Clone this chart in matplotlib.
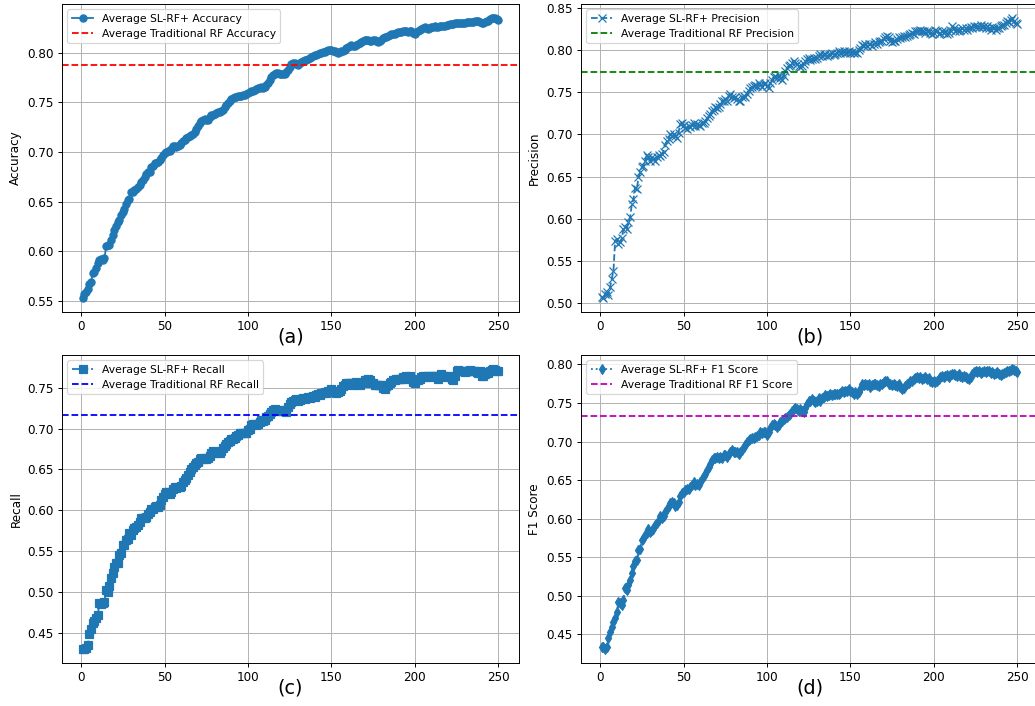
import numpy as np
import matplotlib.pyplot as plt


# ============================================================
# Data (one value per iteration)
# ============================================================

iterations = np.arange(1, 251)

acc_sl_rf = [
    0.553, 0.557, 0.559, 0.562, 0.567, 0.569, 0.578, 0.579, 0.583, 0.588,
    0.591, 0.592, 0.591, 0.593, 0.605, 0.606, 0.606, 0.611, 0.616, 0.621,
    0.626, 0.630, 0.632, 0.637, 0.640, 0.643, 0.648, 0.652, 0.653, 0.660,
    0.660, 0.662, 0.663, 0.665, 0.667, 0.670, 0.672, 0.675, 0.678, 0.680,
    0.680, 0.685, 0.686, 0.689, 0.689, 0.690, 0.692, 0.694, 0.697, 0.699,
    0.700, 0.701, 0.701, 0.703, 0.706, 0.706, 0.705, 0.706, 0.707, 0.709,
    0.711, 0.712, 0.714, 0.715, 0.716, 0.717, 0.718, 0.720, 0.723, 0.726,
    0.729, 0.731, 0.732, 0.733, 0.732, 0.732, 0.735, 0.737, 0.737, 0.738,
    0.739, 0.740, 0.740, 0.741, 0.742, 0.745, 0.747, 0.749, 0.751, 0.753,
    0.754, 0.755, 0.755, 0.756, 0.756, 0.756, 0.757, 0.757, 0.758, 0.759,
    0.760, 0.761, 0.761, 0.762, 0.763, 0.764, 0.765, 0.766, 0.764, 0.766,
    0.768, 0.770, 0.773, 0.776, 0.778, 0.779, 0.780, 0.780, 0.779, 0.779,
    0.779, 0.779, 0.781, 0.783, 0.786, 0.789, 0.790, 0.790, 0.789, 0.788,
    0.790, 0.791, 0.792, 0.793, 0.793, 0.794, 0.795, 0.796, 0.797, 0.798,
    0.798, 0.799, 0.800, 0.800, 0.801, 0.801, 0.802, 0.803, 0.803, 0.803,
    0.802, 0.802, 0.801, 0.800, 0.801, 0.802, 0.802, 0.803, 0.805, 0.806,
    0.807, 0.808, 0.807, 0.807, 0.808, 0.809, 0.810, 0.811, 0.812, 0.813,
    0.813, 0.813, 0.812, 0.812, 0.813, 0.813, 0.812, 0.811, 0.812, 0.813,
    0.815, 0.816, 0.816, 0.817, 0.818, 0.819, 0.819, 0.819, 0.820, 0.821,
    0.821, 0.821, 0.822, 0.822, 0.822, 0.821, 0.822, 0.822, 0.820, 0.819,
    0.821, 0.822, 0.823, 0.824, 0.825, 0.826, 0.825, 0.824, 0.825, 0.826,
    0.826, 0.827, 0.826, 0.826, 0.827, 0.827, 0.827, 0.827, 0.828, 0.828,
    0.829, 0.829, 0.829, 0.830, 0.830, 0.830, 0.830, 0.830, 0.830, 0.830,
    0.831, 0.831, 0.831, 0.831, 0.831, 0.832, 0.832, 0.832, 0.831, 0.830,
    0.830, 0.831, 0.832, 0.832, 0.834, 0.835, 0.835, 0.835, 0.834, 0.833,
]

prec_sl_rf = [
    0.507, 0.506, 0.511, 0.513, 0.509, 0.519, 0.529, 0.538, 0.574, 0.576,
    0.570, 0.572, 0.577, 0.588, 0.590, 0.588, 0.596, 0.602, 0.617, 0.623,
    0.637, 0.635, 0.649, 0.655, 0.661, 0.663, 0.669, 0.675, 0.673, 0.669,
    0.673, 0.671, 0.669, 0.673, 0.675, 0.674, 0.677, 0.679, 0.688, 0.692,
    0.694, 0.700, 0.698, 0.701, 0.698, 0.696, 0.702, 0.712, 0.714, 0.711,
    0.708, 0.706, 0.710, 0.709, 0.711, 0.713, 0.710, 0.712, 0.711, 0.710,
    0.714, 0.713, 0.716, 0.719, 0.722, 0.724, 0.728, 0.729, 0.732, 0.731,
    0.733, 0.736, 0.740, 0.739, 0.742, 0.740, 0.746, 0.748, 0.744, 0.743,
    0.744, 0.742, 0.740, 0.740, 0.744, 0.746, 0.744, 0.748, 0.751, 0.755,
    0.756, 0.757, 0.759, 0.757, 0.761, 0.759, 0.756, 0.760, 0.761, 0.757,
    0.755, 0.761, 0.765, 0.768, 0.769, 0.767, 0.770, 0.767, 0.765, 0.769,
    0.775, 0.779, 0.781, 0.782, 0.785, 0.787, 0.785, 0.783, 0.781, 0.780,
    0.781, 0.783, 0.787, 0.789, 0.790, 0.788, 0.789, 0.791, 0.789, 0.791,
    0.793, 0.795, 0.793, 0.794, 0.795, 0.793, 0.794, 0.795, 0.796, 0.794,
    0.795, 0.797, 0.799, 0.797, 0.798, 0.799, 0.797, 0.798, 0.799, 0.797,
    0.798, 0.796, 0.798, 0.797, 0.800, 0.803, 0.806, 0.805, 0.807, 0.805,
    0.807, 0.807, 0.805, 0.807, 0.809, 0.807, 0.809, 0.811, 0.811, 0.813,
    0.815, 0.817, 0.815, 0.811, 0.810, 0.811, 0.811, 0.813, 0.815, 0.814,
    0.815, 0.817, 0.815, 0.817, 0.818, 0.819, 0.820, 0.819, 0.822, 0.822,
    0.823, 0.824, 0.823, 0.822, 0.820, 0.822, 0.823, 0.820, 0.819, 0.820,
    0.824, 0.822, 0.819, 0.820, 0.822, 0.820, 0.822, 0.819, 0.820, 0.824,
    0.828, 0.826, 0.823, 0.824, 0.823, 0.824, 0.826, 0.824, 0.826, 0.824,
    0.826, 0.827, 0.826, 0.828, 0.827, 0.828, 0.827, 0.830, 0.827, 0.828,
    0.826, 0.828, 0.826, 0.824, 0.827, 0.826, 0.824, 0.826, 0.826, 0.828,
    0.830, 0.830, 0.832, 0.834, 0.833, 0.836, 0.838, 0.835, 0.832, 0.831,
]

rec_sl_rf = [
    0.430, 0.430, 0.431, 0.435, 0.448, 0.454, 0.462, 0.464, 0.468, 0.472,
    0.486, 0.485, 0.486, 0.488, 0.502, 0.500, 0.507, 0.517, 0.523, 0.531,
    0.535, 0.535, 0.545, 0.547, 0.557, 0.558, 0.563, 0.565, 0.572, 0.570,
    0.576, 0.578, 0.580, 0.582, 0.586, 0.590, 0.591, 0.590, 0.592, 0.595,
    0.598, 0.601, 0.602, 0.604, 0.605, 0.604, 0.607, 0.612, 0.616, 0.620,
    0.622, 0.622, 0.620, 0.622, 0.626, 0.628, 0.627, 0.628, 0.628, 0.630,
    0.634, 0.637, 0.639, 0.643, 0.647, 0.650, 0.653, 0.656, 0.658, 0.659,
    0.663, 0.664, 0.663, 0.664, 0.663, 0.664, 0.667, 0.670, 0.672, 0.671,
    0.670, 0.671, 0.670, 0.673, 0.676, 0.679, 0.681, 0.683, 0.685, 0.687,
    0.687, 0.689, 0.691, 0.692, 0.694, 0.695, 0.694, 0.694, 0.695, 0.698,
    0.700, 0.704, 0.706, 0.706, 0.704, 0.706, 0.708, 0.710, 0.709, 0.711,
    0.714, 0.716, 0.718, 0.720, 0.723, 0.724, 0.723, 0.722, 0.723, 0.722,
    0.722, 0.723, 0.720, 0.726, 0.730, 0.732, 0.734, 0.735, 0.736, 0.734,
    0.735, 0.736, 0.737, 0.736, 0.738, 0.739, 0.738, 0.739, 0.740, 0.739,
    0.741, 0.742, 0.741, 0.743, 0.744, 0.745, 0.744, 0.746, 0.746, 0.748,
    0.745, 0.746, 0.744, 0.745, 0.746, 0.748, 0.752, 0.754, 0.756, 0.756,
    0.756, 0.756, 0.754, 0.756, 0.757, 0.756, 0.754, 0.756, 0.756, 0.759,
    0.760, 0.761, 0.759, 0.756, 0.756, 0.754, 0.754, 0.753, 0.754, 0.753,
    0.750, 0.748, 0.752, 0.753, 0.756, 0.757, 0.759, 0.760, 0.761, 0.761,
    0.761, 0.761, 0.763, 0.761, 0.764, 0.763, 0.765, 0.761, 0.757, 0.756,
    0.759, 0.759, 0.761, 0.763, 0.764, 0.763, 0.764, 0.765, 0.763, 0.764,
    0.765, 0.765, 0.764, 0.761, 0.765, 0.767, 0.765, 0.765, 0.763, 0.764,
    0.763, 0.761, 0.760, 0.765, 0.771, 0.772, 0.771, 0.770, 0.770, 0.769,
    0.770, 0.771, 0.772, 0.771, 0.770, 0.771, 0.769, 0.768, 0.770, 0.765,
    0.765, 0.767, 0.769, 0.768, 0.770, 0.772, 0.773, 0.772, 0.771, 0.770,
]

f1_sl_rf = [
    0.433, 0.434, 0.431, 0.434, 0.445, 0.453, 0.460, 0.466, 0.471, 0.479,
    0.492, 0.490, 0.488, 0.494, 0.510, 0.507, 0.514, 0.520, 0.529, 0.538,
    0.545, 0.546, 0.559, 0.561, 0.572, 0.574, 0.579, 0.581, 0.587, 0.583,
    0.585, 0.587, 0.592, 0.594, 0.598, 0.604, 0.601, 0.604, 0.609, 0.613,
    0.617, 0.620, 0.622, 0.620, 0.617, 0.618, 0.622, 0.630, 0.633, 0.635,
    0.637, 0.638, 0.639, 0.641, 0.643, 0.648, 0.644, 0.645, 0.643, 0.648,
    0.652, 0.655, 0.658, 0.663, 0.667, 0.671, 0.676, 0.678, 0.679, 0.680,
    0.678, 0.680, 0.679, 0.682, 0.683, 0.680, 0.684, 0.687, 0.689, 0.686,
    0.687, 0.686, 0.684, 0.686, 0.689, 0.693, 0.696, 0.699, 0.702, 0.703,
    0.705, 0.704, 0.706, 0.707, 0.709, 0.712, 0.711, 0.712, 0.712, 0.708,
    0.712, 0.717, 0.721, 0.723, 0.722, 0.719, 0.722, 0.725, 0.727, 0.729,
    0.731, 0.732, 0.734, 0.736, 0.739, 0.742, 0.743, 0.742, 0.740, 0.742,
    0.740, 0.738, 0.743, 0.749, 0.752, 0.753, 0.755, 0.752, 0.751, 0.753,
    0.756, 0.753, 0.756, 0.758, 0.760, 0.759, 0.760, 0.761, 0.760, 0.761,
    0.762, 0.761, 0.762, 0.763, 0.765, 0.764, 0.766, 0.765, 0.768, 0.766,
    0.764, 0.762, 0.764, 0.762, 0.764, 0.768, 0.774, 0.773, 0.775, 0.773,
    0.774, 0.771, 0.773, 0.774, 0.775, 0.773, 0.772, 0.774, 0.775, 0.777,
    0.779, 0.778, 0.775, 0.774, 0.773, 0.774, 0.773, 0.772, 0.774, 0.771,
    0.768, 0.769, 0.772, 0.774, 0.776, 0.778, 0.779, 0.781, 0.782, 0.784,
    0.782, 0.784, 0.781, 0.782, 0.784, 0.781, 0.782, 0.779, 0.777, 0.778,
    0.777, 0.779, 0.781, 0.784, 0.785, 0.784, 0.785, 0.786, 0.784, 0.786,
    0.787, 0.788, 0.786, 0.785, 0.787, 0.785, 0.784, 0.785, 0.784, 0.782,
    0.781, 0.784, 0.787, 0.790, 0.791, 0.790, 0.791, 0.789, 0.790, 0.791,
    0.790, 0.792, 0.791, 0.789, 0.790, 0.788, 0.789, 0.790, 0.788, 0.786,
    0.787, 0.789, 0.790, 0.791, 0.792, 0.793, 0.794, 0.793, 0.791, 0.790,
]

# traditional RF averages (horizontal reference lines)
acc_trad_rf = 0.788
prec_trad_rf = 0.774
rec_trad_rf = 0.717
f1_trad_rf = 0.7335

PANELS = [
    # (values, baseline, metric, fmt, baseline colour, tag)
    (acc_sl_rf, acc_trad_rf, "Accuracy", "o-", "r", "(a)"),
    (prec_sl_rf, prec_trad_rf, "Precision", "x--", "g", "(b)"),
    (rec_sl_rf, rec_trad_rf, "Recall", "s-.", "b", "(c)"),
    (f1_sl_rf, f1_trad_rf, "F1 Score", "d:", "m", "(d)"),
]

# axes boxes in pixels: left, top, right, bottom
W, H = 1035, 706
BOXES = [
    (62, 4, 519, 312),
    (581, 4, 1038, 312),
    (62, 355, 519, 663),
    (581, 355, 1038, 663),
]

DPI = 86.4


def main():
    fig = plt.figure(figsize=(W / DPI, H / DPI), dpi=DPI)

    for (vals, base, metric, fmt, bcol, tag), (l, t, r, b) in zip(PANELS, BOXES):
        ax = fig.add_axes([l / W, 1 - b / H, (r - l) / W, (b - t) / H])

        ax.plot(iterations, vals, fmt, color="#1f77b4",
                label=f"Average SL-RF+ {metric}")
        ax.axhline(base, color=bcol, linestyle="--",
                   label=f"Average Traditional RF {metric}")

        ax.set_ylabel(metric)
        # panel tag sits just under the tick labels
        ax.text(0.5, -0.1, tag, transform=ax.transAxes,
                ha="center", va="baseline", fontsize=16)
        ax.grid(True)
        ax.legend(loc="upper left", fontsize=9)

    fig.savefig("out.png", dpi=DPI)


if __name__ == "__main__":
    main()
